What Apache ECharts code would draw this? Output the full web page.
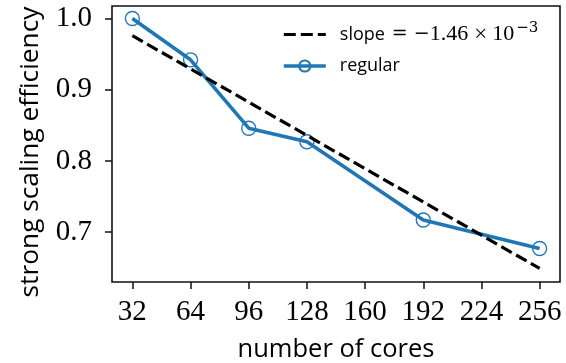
<!DOCTYPE html>
<html>
<head>
<meta charset="utf-8">
<script src="https://cdn.jsdelivr.net/npm/echarts@6/dist/echarts.min.js"></script>
<style>
html,body{margin:0;padding:0;background:#fff;}
#chart{width:566px;height:363px;}
</style>
</head>
<body>
<div id="chart"></div>
<script>
// ---- data ----
var cores = [32, 64, 96, 128, 192, 256];
var efficiency = [1.000, 0.942, 0.846, 0.827, 0.717, 0.677];
var fitCores = [32, 256];
var fitEfficiency = [0.976, 0.649];
var xTicks = [32, 64, 96, 128, 160, 192, 224, 256];
var yTicks = [0.7, 0.8, 0.9, 1.0];
var fitName = 'slope';
var fitSlope = ['\u2212', '1.46', '10', '\u22123'];
var dataName = 'regular';
var xTitle = 'number of cores';
var yTitle = 'strong scaling efficiency';

var SANS = '"Open Sans", "DejaVu Sans", sans-serif';
var SERIF = '"Liberation Serif", "DejaVu Serif", serif';
var OPS = '"DejaVu Serif", "Liberation Serif", serif';
var BLUE = '#1f77b4';

function pairs(xs, ys){ return xs.map(function(x,i){ return [x, ys[i]]; }); }

var chart = echarts.init(document.getElementById('chart'), null, {renderer:'canvas'});
chart.setOption({
  animation: false,
  backgroundColor: '#fff',
  grid: {left:112, right:6, top:6, bottom:81, show:true, borderColor:'#111', borderWidth:1.6,
         backgroundColor:'transparent', containLabel:false, outerBoundsMode:'none'},
  legend: {
    left: 277, top: 16, orient: 'vertical', itemWidth: 42, itemHeight: 14, itemGap: 9,
    data: [
      {name: fitName, itemStyle: {color:'rgba(0,0,0,0)', borderWidth:0}, lineStyle: {color:'#000', width:3.2, type:[12,5]}},
      {name: dataName, lineStyle: {color: BLUE, width:3.6}}
    ],
    formatter: function(n){
      if (n === fitName) {
        return '{s|' + n + '}{eq|=}{op|' + fitSlope[0] + '}{m|' + fitSlope[1] + '}{tm|\u00d7}{m|' +
               fitSlope[2] + '}{sup|' + fitSlope[3] + '}';
      }
      return '{s|' + n + '}';
    },
    textStyle: {
      color:'#000',
      rich: {
        s: {fontFamily: SANS, fontSize: 18, color:'#000', lineHeight: 22, padding:[0,0,0,9]},
        eq: {fontFamily: OPS, fontSize: 19, color:'#000', lineHeight: 22, padding:[0,6,0,7]},
        op: {fontFamily: OPS, fontSize: 19, color:'#000', lineHeight: 22},
        m: {fontFamily: SERIF, fontSize: 22, color:'#000', lineHeight: 22},
        tm: {fontFamily: SERIF, fontSize: 23, color:'#000', lineHeight: 22, padding:[0,5,0,6]},
        sup: {fontFamily: OPS, fontSize: 15, color:'#000', lineHeight: 22, padding:[0,0,12,2]}
      }
    }
  },
  xAxis: {
    type: 'value', min: 20.8, max: 267.2,
    name: xTitle, nameLocation: 'middle', nameGap: 55,
    nameTextStyle: {fontFamily: SANS, fontSize: 25.5, color:'#000'},
    axisLine: {show:false},
    splitLine: {show:false},
    axisTick: {show:true, inside:false, length:7, lineStyle:{color:'#111', width:1.5}, customValues: xTicks},
    axisLabel: {margin: 16, fontFamily: SERIF, fontSize: 29, color:'#000', customValues: xTicks, formatter: function(v){return String(v);}}
  },
  yAxis: {
    type: 'value', min: 0.630, max: 1.0176,
    name: yTitle, nameLocation: 'middle', nameGap: 68, nameRotate: 90,
    nameTextStyle: {fontFamily: SANS, fontSize: 26.3, color:'#000', padding:[0,16,0,0]},
    axisLine: {show:false},
    splitLine: {show:false},
    axisTick: {show:true, inside:false, length:7, lineStyle:{color:'#111', width:1.5}, customValues: yTicks},
    axisLabel: {margin: 20, fontFamily: SERIF, fontSize: 29, color:'#000', customValues: yTicks, formatter: function(v){return v.toFixed(1);}}
  },
  series: [
    {
      name: fitName, type: 'line', data: pairs(fitCores, fitEfficiency),
      symbol: 'none', showSymbol: false, z: 3,
      lineStyle: {color:'#000', width: 3.2, type: [12, 5]},
      itemStyle: {color:'rgba(0,0,0,0)'}
    },
    {
      name: dataName, type: 'line', data: pairs(cores, efficiency),
      symbol: 'circle', symbolSize: 14, z: 2,
      lineStyle: {color: BLUE, width: 3.6},
      itemStyle: {color: 'rgba(0,0,0,0)', borderColor: BLUE, borderWidth: 1.4}
    }
  ]
});
</script>
</body>
</html>
